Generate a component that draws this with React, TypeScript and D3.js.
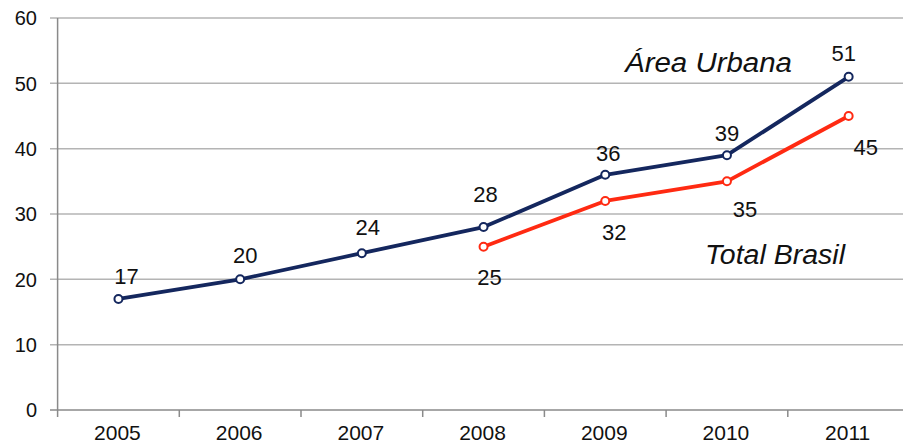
import React from "react";
import * as d3 from "d3";

const years = ["2005", "2006", "2007", "2008", "2009", "2010", "2011"];
const urbanaValues: (number | null)[] = [17, 20, 24, 28, 36, 39, 51];
const brasilValues: (number | null)[] = [null, null, null, 25, 32, 35, 45];
const yTicks = [0, 10, 20, 30, 40, 50, 60];

// label placement (layout only)
const urbanaLabelDx = [8, 5, 6, 2, 3, 0, -5];
const urbanaLabelDy = [-15, -16, -18, -25, -14, -14, -16];
const brasilLabelDx = [0, 0, 0, 6, 9, 18, 17];
const brasilLabelDy = [0, 0, 0, 38, 39, 36, 39];

const W = 903, H = 445;
const left = 57.6, right = 909.5, top = 18, bottom = 410;

export default function App() {
  const x = d3.scaleBand<string>().domain(years).range([left, right]).padding(0);
  const y = d3.scaleLinear().domain([0, 60]).range([bottom, top]);
  const cx = (yr: string) => (x(yr) as number) + x.bandwidth() / 2;

  const line = d3
    .line<[string, number | null]>()
    .defined((d) => d[1] != null)
    .x((d) => cx(d[0]))
    .y((d) => y(d[1] as number));

  const urb = years.map((yr, i) => [yr, urbanaValues[i]] as [string, number | null]);
  const bra = years.map((yr, i) => [yr, brasilValues[i]] as [string, number | null]);
  const navy = "#14275e";
  const red = "#ff2a12";
  const font = "'Liberation Sans', Arial, sans-serif";

  return (
    <svg width={W} height={H} style={{ position: "absolute", left: 0, top: 0, background: "#fff" }}>
      {yTicks.map((t) => (
        <g key={t}>
          <line x1={50} x2={W} y1={y(t)} y2={y(t)} stroke={t === 0 ? "#8a8a8a" : "#b4b4b4"} strokeWidth={1.5} />
          <text x={37} y={y(t)} dy="0.36em" textAnchor="end" fontFamily={font} fontSize={20} fill="#111">
            {t}
          </text>
        </g>
      ))}
      <line x1={left} x2={left} y1={top} y2={bottom + 7} stroke="#8a8a8a" strokeWidth={1.5} />
      {years.map((yr, i) => (
        <g key={yr}>
          {i > 0 && (
            <line x1={x(yr) as number} x2={x(yr) as number} y1={bottom} y2={bottom + 7} stroke="#8a8a8a" strokeWidth={1.5} />
          )}
          <text x={cx(yr) - 1} y={440} textAnchor="middle" fontFamily={font} fontSize={21} fill="#111">
            {yr}
          </text>
        </g>
      ))}
      <path d={line(urb) || ""} fill="none" stroke={navy} strokeWidth={3.8} strokeLinejoin="round" />
      <path d={line(bra) || ""} fill="none" stroke={red} strokeWidth={3.8} strokeLinejoin="round" />
      {urb.map((d, i) =>
        d[1] == null ? null : (
          <g key={"u" + d[0]}>
            <circle cx={cx(d[0])} cy={y(d[1] as number)} r={4} fill="#fff" stroke={navy} strokeWidth={2} />
            <text
              x={cx(d[0]) + urbanaLabelDx[i]}
              y={y(d[1] as number) + urbanaLabelDy[i]}
              textAnchor="middle"
              fontFamily={font}
              fontSize={22}
              fill="#111"
            >
              {d[1]}
            </text>
          </g>
        )
      )}
      {bra.map((d, i) =>
        d[1] == null ? null : (
          <g key={"b" + d[0]}>
            <circle cx={cx(d[0])} cy={y(d[1] as number)} r={4} fill="#fff" stroke={red} strokeWidth={2} />
            <text
              x={cx(d[0]) + brasilLabelDx[i]}
              y={y(d[1] as number) + brasilLabelDy[i]}
              textAnchor="middle"
              fontFamily={font}
              fontSize={22}
              fill="#111"
            >
              {d[1]}
            </text>
          </g>
        )
      )}
      <text x={625} y={72} fontFamily={font} fontSize={27} fontStyle="italic" fill="#111" textLength={167} lengthAdjust="spacingAndGlyphs">
        Área Urbana
      </text>
      <text x={705} y={264} fontFamily={font} fontSize={27} fontStyle="italic" fill="#111" textLength={140} lengthAdjust="spacingAndGlyphs">
        Total Brasil
      </text>
    </svg>
  );
}
